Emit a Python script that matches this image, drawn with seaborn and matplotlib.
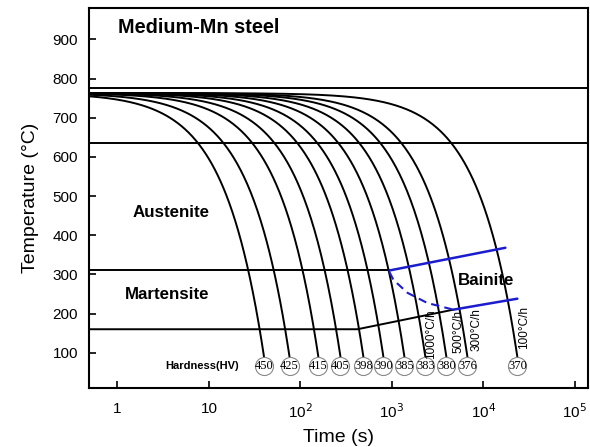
import numpy as np
import pandas as pd
import matplotlib
matplotlib.use("Agg")
import matplotlib.pyplot as plt
import seaborn as sns

# data
hardness = [450, 425, 415, 405, 398, 390, 385, 383, 380, 376, 370]
t_end = [40, 76, 157, 274, 488, 807, 1370, 2320, 3940, 6690, 23500]  # s, time to reach ~90 C
T_start = 763
T_end = 90

rate_labels = ["1000°C/h", "500°C/h", "300°C/h", "100°C/h"]
rate_label_t = [2700, 5300, 8400, 28000]
rate_label_T = [147, 153, 158, 164]

Ac3 = 775
Ac1 = 635
Ms_line_T = 310
Mf_line_T = 160

bainite_upper_t = [940, 17400]
bainite_upper_T = [310, 368]
bainite_lower_t = [4700, 23500]
bainite_lower_T = [210, 238]
bainite_start_t = [940, 1040, 1480, 2440, 4700]
bainite_start_T = [306, 286, 253, 227, 210]
mf_t = [0.49, 420, 4700]
mf_T = [160, 160, 210]

sns.set_style("ticks")
plt.rcParams["font.family"] = ["Liberation Sans", "DejaVu Sans"]
plt.rcParams["text.color"] = "black"
plt.rcParams["axes.labelcolor"] = "black"
plt.rcParams["xtick.color"] = "black"
plt.rcParams["ytick.color"] = "black"
plt.rcParams["axes.edgecolor"] = "black"

t_min, t_max = 0.49, 1.4e5

rows = []
for i, te in enumerate(t_end):
    t = np.logspace(np.log10(t_min), np.log10(te), 300)
    T = T_start - (T_start - T_end) * t / te
    for a, b in zip(t, T):
        rows.append({"curve": i, "t": a, "T": b})
df = pd.DataFrame(rows)

fig = plt.figure(figsize=(5.9, 4.47), dpi=100)
ax = fig.add_axes([0.151, 0.132, 0.846, 0.850])

sns.lineplot(data=df, x="t", y="T", units="curve", estimator=None,
             color="black", lw=1.4, ax=ax, legend=False)

ax.axhline(Ac3, color="black", lw=1.4)
ax.axhline(Ac1, color="black", lw=1.4)
ax.plot([t_min, bainite_upper_t[0]], [Ms_line_T, Ms_line_T], color="black", lw=1.4)
ax.plot(mf_t, mf_T, color="black", lw=1.4)

blue = "#1c1ccf"
ax.plot(bainite_upper_t, bainite_upper_T, color=blue, lw=1.8)
ax.plot(bainite_lower_t, bainite_lower_T, color=blue, lw=1.8)
ax.plot(bainite_start_t, bainite_start_T, color=blue, lw=1.5, ls=(0, (4, 2.5)))

# hardness circles
for h, te in zip(hardness, t_end):
    ax.plot(te, 67, marker="o", ms=13, mfc="white", mec="#888888", mew=0.8)
    ax.text(te, 67, str(h), ha="center", va="center", fontsize=9,
            family=["Liberation Serif", "DejaVu Serif"])
ax.text(3.3, 67, "Hardness(HV)", ha="left", va="center", fontsize=8, fontweight="bold")

for lab, tx, ty in zip(rate_labels, rate_label_t, rate_label_T):
    ax.text(tx, ty, lab, rotation=90, ha="center", va="center", fontsize=8.5)

ax.text(1.02, 930, "Medium-Mn steel", fontsize=14.3, fontweight="bold", ha="left", va="center")
ax.text(1.46, 459, "Austenite", fontsize=12.2, fontweight="bold", ha="left", va="center")
ax.text(1.22, 248, "Martensite", fontsize=12.2, fontweight="bold", ha="left", va="center")
ax.text(5200, 284, "Bainite", fontsize=12.2, fontweight="bold", ha="left", va="center")

ax.set_xscale("log")
ax.set_xlim(t_min, t_max)
ax.set_ylim(10, 980)
ax.set_xticks([1, 10, 100, 1000, 1e4, 1e5])
ax.set_xticklabels(["1", "10", "10$^2$", "10$^3$", "10$^4$", "10$^5$"])
ax.minorticks_off()
ax.set_yticks(range(100, 1000, 100))
ax.tick_params(direction="in", length=5, width=1.2, labelsize=11, pad=8)
ax.tick_params(axis="x", pad=10)
for s in ax.spines.values():
    s.set_linewidth(1.5)
    s.set_visible(True)
ax.set_xlabel("Time (s)", fontsize=14, labelpad=6)
ax.set_ylabel("Temperature (°C)", fontsize=14, labelpad=10)

fig.savefig("out.png", dpi=100)
